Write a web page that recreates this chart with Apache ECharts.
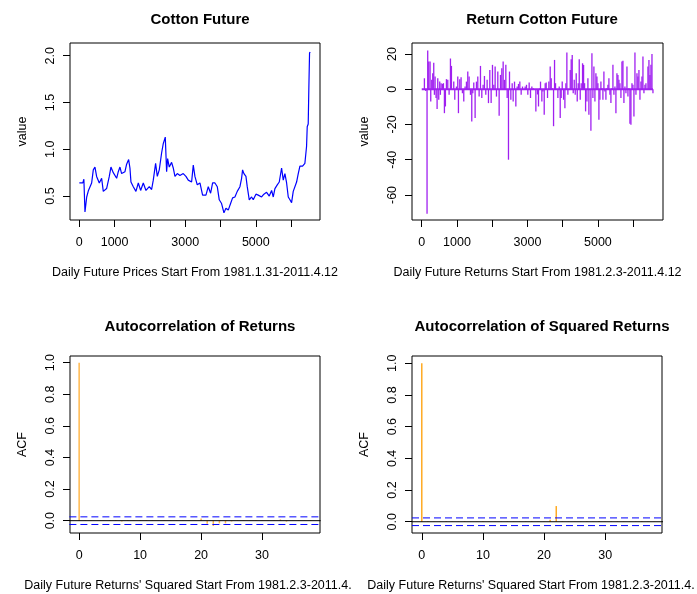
<!DOCTYPE html>
<html>
<head>
<meta charset="utf-8">
<script src="https://cdn.jsdelivr.net/npm/echarts@6/dist/echarts.min.js"></script>
<style>
  html, body { margin: 0; padding: 0; background: #fff; }
  #main { width: 697px; height: 594px; }
</style>
</head>
<body>
<div id="main"></div>
<script>
// 价格序列（交易日序号, 价格）
var priceDay = [1, 100, 130, 161, 210, 260, 350, 397, 444, 491, 567, 633, 680, 774, 850, 897, 963, 1058, 1105, 1152,
  1199, 1294, 1341, 1398, 1435, 1464, 1530, 1605, 1672, 1738, 1813, 1889, 1983, 2049, 2096, 2162, 2210, 2266, 2332, 2379,
  2436, 2455, 2474, 2502, 2549, 2615, 2662, 2710, 2776, 2851, 2945, 3021, 3087, 3182, 3229, 3276, 3342, 3418, 3493, 3588,
  3654, 3720, 3777, 3843, 3909, 3965, 4031, 4098, 4154, 4220, 4286, 4343, 4409, 4475, 4551, 4598, 4626, 4664, 4721, 4758,
  4815, 4881, 4928, 5004, 5070, 5117, 5164, 5230, 5306, 5382, 5448, 5495, 5542, 5608, 5665, 5731, 5778, 5825, 5873, 5920,
  5967, 6014, 6061, 6109, 6156, 6203, 6250, 6325, 6391, 6438, 6457, 6485, 6504, 6523, 6542];
var priceVal = [0.64, 0.64, 0.68, 0.33, 0.49, 0.56, 0.64, 0.78, 0.81, 0.71, 0.64, 0.69, 0.55, 0.58, 0.71, 0.81, 0.75, 0.69, 0.76, 0.81,
  0.74, 0.76, 0.84, 0.89, 0.80, 0.65, 0.60, 0.55, 0.64, 0.56, 0.64, 0.56, 0.60, 0.57, 0.67, 0.85, 0.71, 0.78, 0.96, 1.06,
  1.13, 1.14, 0.76, 0.90, 0.81, 0.86, 0.80, 0.71, 0.74, 0.72, 0.74, 0.71, 0.67, 0.65, 0.83, 0.71, 0.62, 0.64, 0.51, 0.51,
  0.60, 0.53, 0.64, 0.64, 0.60, 0.46, 0.42, 0.32, 0.37, 0.35, 0.42, 0.48, 0.49, 0.55, 0.60, 0.69, 0.78, 0.74, 0.71, 0.60,
  0.46, 0.49, 0.46, 0.52, 0.51, 0.53, 0.49, 0.52, 0.54, 0.50, 0.56, 0.49, 0.58, 0.62, 0.65, 0.80, 0.67, 0.74, 0.64, 0.49,
  0.46, 0.43, 0.55, 0.56, 0.65, 0.74, 0.82, 0.82, 0.85, 1.03, 1.24, 1.27, 1.67, 2.03, 2.04];

// 收益率序列
var returnDay = [0, 76, 114, 151, 170, 199, 237, 256, 284, 313, 341, 360, 379, 407, 436, 455, 483, 511, 530, 549,
  587, 616, 644, 672, 701, 739, 777, 815, 843, 871, 909, 938, 985, 1023, 1042, 1080, 1117, 1155, 1193, 1231,
  1269, 1307, 1345, 1383, 1420, 1449, 1477, 1515, 1553, 1591, 1629, 1667, 1705, 1742, 1780, 1818, 1856, 1894, 1932, 1970,
  2008, 2046, 2083, 2121, 2159, 2197, 2235, 2273, 2311, 2349, 2387, 2425, 2462, 2491, 2529, 2567, 2595, 2633, 2671, 2709,
  2746, 2784, 2822, 2860, 2898, 2936, 2973, 3011, 3049, 3087, 3125, 3163, 3201, 3239, 3286, 3314, 3343, 3371, 3409, 3438,
  3476, 3504, 3532, 3570, 3608, 3646, 3675, 3703, 3741, 3769, 3797, 3835, 3864, 3902, 3930, 3958, 3987, 4025, 4063, 4091,
  4119, 4148, 4176, 4214, 4242, 4271, 4299, 4328, 4356, 4384, 4413, 4441, 4470, 4498, 4526, 4564, 4593, 4621, 4650, 4688,
  4716, 4744, 4773, 4801, 4830, 4858, 4886, 4915, 4943, 4972, 5000, 5028, 5057, 5085, 5114, 5142, 5170, 5199, 5227, 5256,
  5284, 5312, 5341, 5369, 5398, 5426, 5454, 5483, 5511, 5540, 5568, 5596, 5625, 5653, 5682, 5710, 5738, 5767, 5795, 5824,
  5852, 5880, 5909, 5937, 5966, 5994, 6022, 6051, 6079, 6108, 6136, 6164, 6193, 6221, 6250, 6278, 6306, 6335, 6363, 6392,
  6420, 6448, 6477, 6505, 6534, 6562];
var returnVal = [0, 6.2, -1, -70.6, 21.9, 15.7, 15.7, -7, 5.3, 9, 15, -3.2, 7.2, -5, -11.3, 6.2, -6, 4.3, -3.2, 3.4,
  3, 3.4, -13.6, -9.8, 5.7, 5.3, -3.2, 17.4, 13.2, 0, 4.3, -6, 1.5, 7.2, -13.6, 5.7, 6.8, -2.3, -7, 1.5,
  4.3, 10, 7.2, -3.2, -18.3, -2.3, 3.8, -16.4, 4.3, 7.2, -4.2, 13.2, -5, 2.5, 7.5, -3.2, 5.3, -7.9, 10.9, -7.9,
  13.8, 2.5, 12.8, -4.2, 10, -15.1, 8.1, 11.9, 15.7, 5.3, 13.8, -5, -40, 10, -6, 3.4, -7, 4.3, -9.8, 1.5,
  3, 4.3, -3.2, 1.5, -0.4, 1.5, 2.5, -3.2, 3.8, -5, 1.5, 0.6, 0, -12.6, -3, -9.8, 0.4, 4.3, -7, -1.3,
  -14.5, 3.4, 3.8, -5, 4.3, 12.8, 6.2, 0.6, -21, 16.6, 3.4, 0, -5, 1.5, -16.4, -5, 4.3, -6, -10.8, 3.4,
  20.8, -3.2, 0, 10.9, 17, 19.4, -2.3, 5.3, -3.2, 9, -7, 3.4, 17, -6, 3.4, 14.7, 13.8, 3.4, -12.6, -7,
  6.2, -14.5, 0, -23.6, 20.4, -5, 12.8, -7, 9, 7.2, 3.4, -17.4, -6, 4.3, 0.6, -6, 10, -1.3, -6, 0.6,
  2.5, 6.2, -3.2, -7.9, 0.6, 13.8, -3.2, 1.5, -13.6, 9, 8.1, 5.3, 3.4, -5, 15.7, 16.2, -7.9, 1.5, -2.3, 12.8,
  -4.2, 0.6, -19.6, -20.2, 3.4, 2.5, -15.5, 20.8, -3.2, 9, 7.2, 10.9, -6, 4.3, 7.2, 18.5, -2.3, 2.5, 3.4, -0.4,
  12.8, 16.6, 8.1, 13.8, 20, -2.3];

// 自相关
var acfLag = [0, 1, 2, 3, 4, 5, 6, 7, 8, 9, 10, 11, 12, 13, 14, 15, 16, 17, 18, 19,
  20, 21, 22, 23, 24, 25, 26, 27, 28, 29, 30, 31, 32, 33, 34, 35, 36, 37, 38];
var acfReturns = [1, 0.002, -0.002, 0.001, -0.001, 0.003, 0.004, -0.006, 0.003, -0.002, 0.002, 0.002, -0.002, 0.001, -0.002, 0.002, 0.002, -0.002, 0.001, -0.002,
  0.013, -0.019, -0.034, -0.017, -0.017, -0.005, 0.002, -0.002, 0.001, 0.002, -0.002, 0.001, -0.002, 0.008, -0.006, 0.001, -0.002, 0.001, 0.003];
var acfSquared = [1, 0.003, 0.002, 0.001, 0.003, 0.002, 0.002, 0.003, 0.001, 0.002, 0.003, 0.002, 0.001, 0.002, 0.003, 0.002, 0.001, 0.002, 0.003, 0.002,
  0.002, 0.013, 0.099, 0.003, 0.002, 0.001, 0.002, 0.003, 0.002, 0.004, 0.001, 0.002, 0.003, 0.002, 0.001, 0.002, 0.003, 0.002, 0.001];
var ciBound = 0.0242;

var priceTicks = [0, 1000, 2000, 3000, 4000, 5000, 6000];
var priceTickLabels = [0, 1000, 3000, 5000];
var priceYTicks = [0.5, 1.0, 1.5, 2.0];
var returnYTicks = [-60, -40, -20, 0, 20];
var lagTicks = [0, 10, 20, 30];
var acfYTicks = [0, 0.2, 0.4, 0.6, 0.8, 1.0];
var lagMin = -1.6, lagMax = 39.6;

var FONT = 'Liberation Sans, Arial, sans-serif';
var myChart = echarts.init(document.getElementById('main'));

function xAxisOf(gridIndex, min, max, ticks, labels, name, pad) {
  return {
    type: 'value', gridIndex: gridIndex, min: min, max: max, position: 'bottom',
    splitLine: { show: false },
    axisLine: { show: false, onZero: false },
    axisTick: { show: true, inside: false, length: 7, customValues: ticks, lineStyle: { color: '#000' } },
    axisLabel: { customValues: labels, margin: 16, color: '#000', fontFamily: FONT, fontSize: 12.5,
      formatter: function (v) { return String(v); } },
    name: name, nameLocation: 'middle', nameGap: 46,
    nameTextStyle: { color: '#000', fontFamily: FONT, fontSize: 12.5, padding: pad || 0 }
  };
}
function yAxisOf(gridIndex, min, max, ticks, name, fmt) {
  return {
    type: 'value', gridIndex: gridIndex, min: min, max: max, position: 'left',
    splitLine: { show: false },
    axisLine: { show: false, onZero: false },
    axisTick: { show: true, inside: false, length: 7, customValues: ticks, lineStyle: { color: '#000' } },
    axisLabel: { customValues: ticks, rotate: 90, margin: 13, color: '#000', fontFamily: FONT, fontSize: 12.5, formatter: fmt },
    name: name, nameLocation: 'middle', nameRotate: 90, nameGap: 41,
    nameTextStyle: { color: '#000', fontFamily: FONT, fontSize: 12.5 }
  };
}
// 水平参考线（abline）
function hLine(axis, y, x0, x1, color, type) {
  return {
    type: 'line', xAxisIndex: axis, yAxisIndex: axis, symbol: 'none', silent: true, z: 3,
    lineStyle: { color: color, type: type, width: 1 },
    data: [[x0, y], [x1, y]]
  };
}
function acfBars(axis, values, color) {
  return {
    type: 'bar', xAxisIndex: axis, yAxisIndex: axis, barWidth: 1.5,
    itemStyle: { color: color },
    data: acfLag.map(function (l, i) { return [l, values[i]]; })
  };
}

var gridBox = { show: true, borderColor: '#000', borderWidth: 1, backgroundColor: 'transparent' };
var titleStyle = { color: '#000', fontFamily: FONT, fontSize: 15, fontWeight: 'bold' };

myChart.setOption({
  animation: false,
  backgroundColor: '#fff',
  title: [
    { text: 'Cotton Future', left: 195, top: 7, textAlign: 'center', textStyle: titleStyle },
    { text: 'Return Cotton Future', left: 537, top: 7, textAlign: 'center', textStyle: titleStyle },
    { text: 'Autocorrelation of Returns', left: 195, top: 314, textAlign: 'center', textStyle: titleStyle },
    { text: 'Autocorrelation of Squared Returns', left: 537, top: 314, textAlign: 'center', textStyle: titleStyle }
  ],
  grid: [
    Object.assign({ left: 70, top: 43, width: 250, height: 177 }, gridBox),
    Object.assign({ left: 412, top: 43, width: 251, height: 177 }, gridBox),
    Object.assign({ left: 70, top: 356, width: 250, height: 177 }, gridBox),
    Object.assign({ left: 412, top: 356, width: 250, height: 177 }, gridBox)
  ],
  xAxis: [
    xAxisOf(0, -263, 6819, priceTicks, priceTickLabels, 'Daily Future Prices Start From 1981.1.31-2011.4.12'),
    xAxisOf(1, -276, 6847, priceTicks, priceTickLabels, 'Daily Future Returns Start From 1981.2.3-2011.4.12'),
    xAxisOf(2, -1.5, 39.5, lagTicks, lagTicks, "Daily Future Returns' Squared Start From 1981.2.3-2011.4.", [0, 14, 0, 0]),
    xAxisOf(3, -1.6, 39.3, lagTicks, lagTicks, "Daily Future Returns' Squared Start From 1981.2.3-2011.4.", [0, 12, 0, 0])
  ],
  yAxis: [
    yAxisOf(0, 0.244, 2.136, priceYTicks, 'value', function (v) { return v.toFixed(1); }),
    yAxisOf(1, -74.2, 26.2, returnYTicks, 'value', function (v) { return String(v); }),
    yAxisOf(2, -0.078, 1.042, acfYTicks, 'ACF', function (v) { return v.toFixed(1); }),
    yAxisOf(3, -0.071, 1.046, acfYTicks, 'ACF', function (v) { return v.toFixed(1); })
  ],
  series: [
    {
      type: 'line', xAxisIndex: 0, yAxisIndex: 0, symbol: 'none',
      lineStyle: { color: '#0000FF', width: 1.2 },
      data: priceDay.map(function (d, i) { return [d, priceVal[i]]; })
    },
    {
      // 收益率：从 0 出发的竖线
      type: 'bar', xAxisIndex: 1, yAxisIndex: 1, barWidth: 1.3,
      itemStyle: { color: '#A020F0' },
      data: returnDay.map(function (d, i) { return [d, returnVal[i]]; })
    },
    Object.assign(hLine(1, 0, returnDay[0], returnDay[returnDay.length - 1], '#A020F0', 'solid'), { lineStyle: { color: '#A020F0', width: 2 } }),
    acfBars(2, acfReturns, '#FFB84D'),
    hLine(2, 0, lagMin, lagMax, '#000000', 'solid'),
    hLine(2, ciBound, lagMin, lagMax, '#0000FF', [7, 4]),
    hLine(2, -ciBound, lagMin, lagMax, '#0000FF', [7, 4]),
    acfBars(3, acfSquared, '#FFAA22'),
    hLine(3, 0, lagMin, lagMax, '#000000', 'solid'),
    hLine(3, ciBound, lagMin, lagMax, '#0000FF', [7, 4]),
    hLine(3, -ciBound, lagMin, lagMax, '#0000FF', [7, 4])
  ]
});
</script>
</body>
</html>
